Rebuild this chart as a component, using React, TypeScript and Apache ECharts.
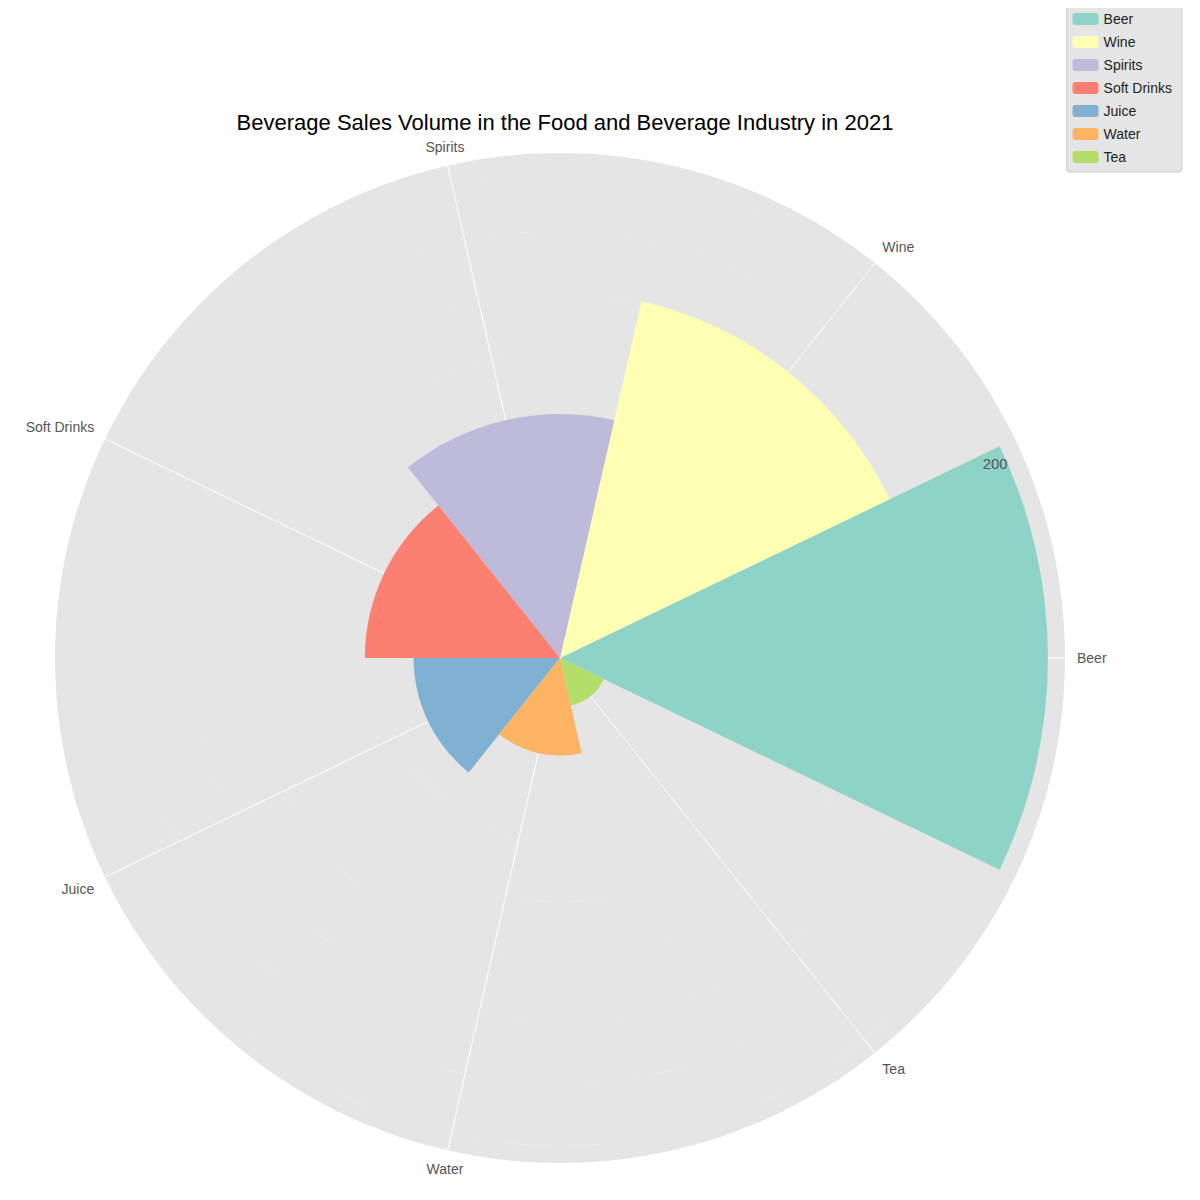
import React, { useEffect, useRef } from "react";
import * as echarts from "echarts";

const categories = ["Beer", "Wine", "Spirits", "Soft Drinks", "Juice", "Water", "Tea"];
const sales = [200, 150, 100, 80, 60, 40, 20];
const colors = ["#8dd3c7", "#ffffb3", "#bebada", "#fb8072", "#80b1d3", "#fdb462", "#b3de69"];
const radiusMax = 207;
const radiusStep = 25;

const App: React.FC = () => {
  const chartRef = useRef<HTMLDivElement | null>(null);

  useEffect(() => {
    if (!chartRef.current) return;
    const chart = echarts.init(chartRef.current, undefined, { renderer: "svg" });
    const center = [552, 650];
    const radius = 505;
    const band = 360 / categories.length;

    const options = {
      animation: false,
      textStyle: { fontFamily: "Liberation Sans, Arial, sans-serif" },
      title: {
        text: "Beverage Sales Volume in the Food and Beverage Industry in 2021",
        left: 552,
        top: 98,
        textAlign: "center",
        textStyle: { fontSize: 22, fontWeight: "normal", color: "#000" },
      },
      legend: {
        orient: "vertical",
        right: 26,
        top: -4,
        itemWidth: 26,
        itemHeight: 12,
        itemGap: 9,
        padding: [8, 10, 8, 6],
        backgroundColor: "#e5e5e5",
        borderColor: "#cccccc",
        borderWidth: 1,
        borderRadius: 3,
        textStyle: { fontSize: 14, color: "#222" },
        data: categories,
      },
      polar: [
        { center, radius },
        { center, radius },
        { center, radius },
      ],
      angleAxis: [
        {
          polarIndex: 0,
          type: "value",
          min: 0,
          max: 360,
          interval: band,
          startAngle: 0,
          clockwise: false,
          axisLine: { show: false },
          axisTick: { show: false },
          axisLabel: { show: false },
          splitLine: { show: true, lineStyle: { color: "#ffffff", width: 1 } },
        },
        {
          polarIndex: 1,
          type: "category",
          data: categories,
          startAngle: -band / 2,
          clockwise: false,
          boundaryGap: true,
          axisLine: { show: false },
          axisTick: { show: false },
          splitLine: { show: false },
          axisLabel: { color: "#555", fontSize: 14, margin: 12 },
        },
        {
          polarIndex: 2,
          type: "value",
          min: 0,
          max: 360,
          startAngle: 22.5,
          clockwise: false,
          axisLine: { show: false },
          axisTick: { show: false },
          axisLabel: { show: false },
          splitLine: { show: false },
        },
      ],
      radiusAxis: [
        {
          polarIndex: 0,
          min: 0,
          max: radiusMax,
          interval: radiusStep,
          axisLine: { show: false },
          axisTick: { show: false },
          axisLabel: { show: false },
          splitLine: { show: true, lineStyle: { color: "#ffffff", width: 1 } },
          splitArea: { show: true, areaStyle: { color: ["#e5e5e5"] } },
        },
        {
          polarIndex: 1,
          min: 0,
          max: radiusMax,
          interval: radiusStep,
          axisLine: { show: false },
          axisTick: { show: false },
          axisLabel: { show: false },
          splitLine: { show: false },
        },
        {
          polarIndex: 2,
          min: 0,
          max: radiusMax,
          interval: radiusStep,
          z: 10,
          axisLine: { show: false },
          axisTick: { show: false },
          splitLine: { show: false },
          axisLabel: {
            color: "#555",
            fontSize: 15,
            formatter: (v: number) => (v === 200 ? "200" : ""),
          },
        },
      ],
      series: categories.map((name, i) => ({
        name,
        type: "bar",
        coordinateSystem: "polar",
        polarIndex: 1,
        stack: "total",
        barCategoryGap: "0%",
        itemStyle: { color: colors[i] },
        data: categories.map((_, j) => (j === i ? sales[i] : "-")),
      })),
    };

    chart.setOption(options);
    return () => chart.dispose();
  }, []);

  return <div ref={chartRef} style={{ width: "1200px", height: "1200px" }} />;
};

export default App;
